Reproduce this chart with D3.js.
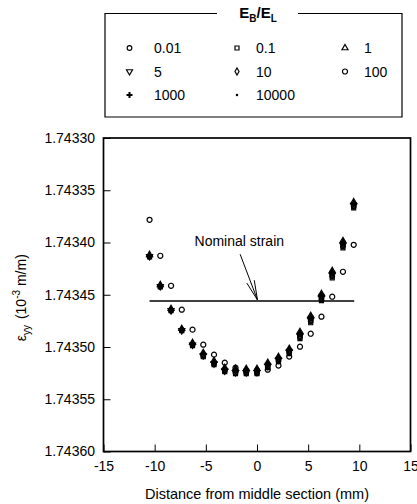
<!DOCTYPE html>
<html>
<head>
<meta charset="utf-8">
<script src="https://cdn.jsdelivr.net/npm/d3@7"></script>
<style>
body { margin: 0; background: #fff; }
svg text { font-family: "Liberation Sans", Arial, sans-serif; fill: #000; }
</style>
</head>
<body>
<script>
// distance from middle section (mm)
var xValues = [-10.5, -9.45, -8.4, -7.35, -6.3, -5.25, -4.2, -3.15, -2.1, -1.05, 0, 1.05, 2.1, 3.15, 4.2, 5.25, 6.3, 7.35, 8.4, 9.45];

// strain per E_B/E_L ratio
var s001 = [1.7434135, 1.7434421, 1.7434650, 1.7434840, 1.7434981, 1.7435085, 1.7435161, 1.7435228, 1.7435246, 1.7435247, 1.7435246, 1.7435188, 1.7435130, 1.7435053, 1.7434906, 1.7434754, 1.7434543, 1.7434323, 1.7434037, 1.7433655];
var s01 = [1.7434137, 1.7434424, 1.7434653, 1.7434844, 1.7434987, 1.7435092, 1.7435169, 1.7435236, 1.7435255, 1.7435255, 1.7435255, 1.7435197, 1.7435140, 1.7435064, 1.7434920, 1.7434768, 1.7434557, 1.7434338, 1.7434051, 1.7433669];
var s1 = [1.7434118, 1.7434405, 1.7434634, 1.7434825, 1.7434959, 1.7435055, 1.7435131, 1.7435198, 1.7435208, 1.7435208, 1.7435208, 1.7435150, 1.7435093, 1.7435016, 1.7434854, 1.7434701, 1.7434491, 1.7434271, 1.7433985, 1.7433612];
var s5 = [1.7434133, 1.7434420, 1.7434650, 1.7434841, 1.7434980, 1.7435082, 1.7435160, 1.7435228, 1.7435244, 1.7435245, 1.7435243, 1.7435184, 1.7435125, 1.7435047, 1.7434895, 1.7434742, 1.7434531, 1.7434311, 1.7434025, 1.7433648];
var s10 = [1.7434130, 1.7434417, 1.7434646, 1.7434838, 1.7434972, 1.7435069, 1.7435146, 1.7435213, 1.7435224, 1.7435224, 1.7435223, 1.7435166, 1.7435109, 1.7435032, 1.7434872, 1.7434719, 1.7434509, 1.7434289, 1.7434004, 1.7433630];
var s100 = [1.7433783, 1.7434127, 1.7434414, 1.7434643, 1.7434834, 1.7434978, 1.7435073, 1.7435150, 1.7435197, 1.7435226, 1.7435226, 1.7435217, 1.7435178, 1.7435092, 1.7434997, 1.7434873, 1.7434710, 1.7434519, 1.7434280, 1.7434022];
var s1000 = [1.7434127, 1.7434414, 1.7434643, 1.7434834, 1.7434968, 1.7435064, 1.7435140, 1.7435207, 1.7435217, 1.7435217, 1.7435217, 1.7435159, 1.7435102, 1.7435025, 1.7434863, 1.7434710, 1.7434500, 1.7434280, 1.7433994, 1.7433621];
var s10000 = [1.7434127, 1.7434414, 1.7434643, 1.7434834, 1.7434968, 1.7435064, 1.7435140, 1.7435207, 1.7435217, 1.7435217, 1.7435217, 1.7435159, 1.7435102, 1.7435025, 1.7434863, 1.7434710, 1.7434500, 1.7434280, 1.7433994, 1.7433621];

var ratioLabels = ["0.01", "0.1", "1", "5", "10", "100", "1000", "10000"];
var xTicks = [-15, -10, -5, 0, 5, 10, 15];
var yTicks = [1.74330, 1.74335, 1.74340, 1.74345, 1.74350, 1.74355, 1.74360];
var nominalStrain = 1.743456;
var nominalRange = [-10.5, 9.5];

var width = 417;
var height = 504;
var padding = { top: 138, right: 6.5, bottom: 52.5, left: 103.5 };
var plotW = width - padding.left - padding.right;
var plotH = height - padding.top - padding.bottom;

var svg = d3.select("body").append("svg")
    .attr("width", width)
    .attr("height", height);

var xScale = d3.scaleLinear().domain([-15, 15]).range([0, plotW]);
var yScale = d3.scaleLinear().domain([1.74330, 1.74360]).range([0, plotH]);

var g = svg.append("g")
    .attr("transform", "translate(" + padding.left + "," + padding.top + ")");

var xAxis = d3.axisBottom(xScale)
    .tickValues(xTicks)
    .tickFormat(function(d) { return String(d); })
    .tickSize(-7)
    .tickPadding(10);
var yAxis = d3.axisLeft(yScale)
    .tickValues(yTicks)
    .tickFormat(d3.format(".5f"))
    .tickSize(-7)
    .tickPadding(8.5);

var xAxisG = g.append("g")
    .attr("transform", "translate(0," + plotH + ")")
    .call(xAxis);
var yAxisG = g.append("g").call(yAxis);

[xAxisG, yAxisG].forEach(function(a) {
    a.select(".domain").remove();
    a.selectAll("line").attr("stroke", "#000").attr("stroke-width", 1);
    a.selectAll("text").attr("font-size", 14).attr("font-family", "Liberation Sans, Arial, sans-serif");
});

g.append("rect")
    .attr("width", plotW)
    .attr("height", plotH)
    .attr("fill", "none")
    .attr("stroke", "#000")
    .attr("stroke-width", 1.7);

// nominal strain line + arrow
g.append("line")
    .attr("x1", xScale(nominalRange[0]))
    .attr("x2", xScale(nominalRange[1]))
    .attr("y1", yScale(nominalStrain))
    .attr("y2", yScale(nominalStrain))
    .attr("stroke", "#000")
    .attr("stroke-width", 1.3);

g.append("text")
    .attr("x", xScale(-6.1))
    .attr("y", yScale(1.7434033))
    .attr("font-size", 14)
    .text("Nominal strain");

var tipX = xScale(0.05), tipY = yScale(nominalStrain) - 1;
var tailX = xScale(-1.65), tailY = yScale(1.7434112);
var ang = Math.atan2(tailY - tipY, tailX - tipX);
var headLen = 20, spread = 0.2;
g.append("line")
    .attr("x1", tailX).attr("y1", tailY)
    .attr("x2", tipX).attr("y2", tipY)
    .attr("stroke", "#000").attr("stroke-width", 1);
[-spread, spread].forEach(function(s) {
    g.append("line")
        .attr("x1", tipX).attr("y1", tipY)
        .attr("x2", tipX + headLen * Math.cos(ang + s))
        .attr("y2", tipY + headLen * Math.sin(ang + s))
        .attr("stroke", "#000").attr("stroke-width", 1);
});

// marker styles
var styles = {
    "0.01": { type: d3.symbolCircle, size: 17, fill: "none", rot: 0 },
    "0.1": { type: d3.symbolSquare, size: 16, fill: "none", rot: 0 },
    "1": { type: d3.symbolTriangle, size: 16, fill: "none", rot: 0 },
    "5": { type: d3.symbolTriangle, size: 16, fill: "none", rot: 180 },
    "10": { type: d3.symbolDiamond, size: 14, fill: "none", rot: 0 },
    "100": { type: d3.symbolCircle, size: 20, fill: "none", rot: 0 },
    "1000": { type: d3.symbolCross, size: 20, fill: "#000", rot: 0 },
    "10000": { type: d3.symbolCircle, size: 5, fill: "#000", rot: 0 }
};
var seriesValues = [s001, s01, s1, s5, s10, s100, s1000, s10000];

function drawMarker(sel, key) {
    var st = styles[key];
    sel.attr("d", d3.symbol().type(st.type).size(st.size))
        .attr("fill", st.fill)
        .attr("stroke", st.fill === "none" ? "#000" : "none")
        .attr("stroke-width", 1.2);
}

seriesValues.forEach(function(vals, i) {
    var key = ratioLabels[i];
    g.append("g").selectAll("path")
        .data(vals)
        .enter()
        .append("path")
        .call(drawMarker, key)
        .attr("transform", function(d, j) {
            return "translate(" + xScale(xValues[j]) + "," + yScale(d) + ") rotate(" + styles[key].rot + ")";
        });
});

// axis titles
svg.append("text")
    .attr("x", padding.left + xScale(0))
    .attr("y", 499)
    .attr("text-anchor", "middle")
    .attr("font-size", 14.5)
    .text("Distance from middle section (mm)");

var yt = svg.append("text")
    .attr("transform", "translate(26," + (padding.top + plotH / 2 + 3) + ") rotate(-90)")
    .attr("text-anchor", "middle")
    .attr("font-size", 14);
yt.append("tspan").text("\u03b5");
yt.append("tspan").attr("font-size", 10).attr("dy", 4).text("yy");
yt.append("tspan").attr("dy", -4).attr("dx", 6).text("(10");
yt.append("tspan").attr("font-size", 10).attr("dy", -6).text("-3");
yt.append("tspan").attr("dy", 6).text(" m/m)");

// legend
var legend = { left: 105, right: 402, top: 13.5, bottom: 117, gapL: 217, gapR: 298 };
var lg = svg.append("g");
lg.append("path")
    .attr("d", "M" + legend.gapL + "," + legend.top + "H" + legend.left + "V" + legend.bottom +
        "H" + legend.right + "V" + legend.top + "H" + legend.gapR)
    .attr("fill", "none")
    .attr("stroke", "#000")
    .attr("stroke-width", 1.2);

var lt = lg.append("text")
    .attr("x", 258)
    .attr("y", 18)
    .attr("text-anchor", "middle")
    .attr("font-size", 15)
    .attr("font-weight", "bold");
lt.append("tspan").text("E");
lt.append("tspan").attr("font-size", 10).attr("dy", 4).text("B");
lt.append("tspan").attr("dy", -4).text("/E");
lt.append("tspan").attr("font-size", 10).attr("dy", 4).text("L");

var legendCols = [129.5, 237, 345];
var legendTextX = [154, 256, 364];
var legendRows = [48, 71.5, 95];
var legendOrder = ["0.01", "0.1", "1", "5", "10", "100", "1000", "10000"];

legendOrder.forEach(function(key, i) {
    var c = i % 3, r = Math.floor(i / 3);
    lg.append("path")
        .call(drawMarker, key)
        .attr("transform", "translate(" + legendCols[c] + "," + legendRows[r] + ") rotate(" + styles[key].rot + ")");
    lg.append("text")
        .attr("x", legendTextX[c])
        .attr("y", legendRows[r] + 5)
        .attr("font-size", 14)
        .text(key);
});
</script>
</body>
</html>
